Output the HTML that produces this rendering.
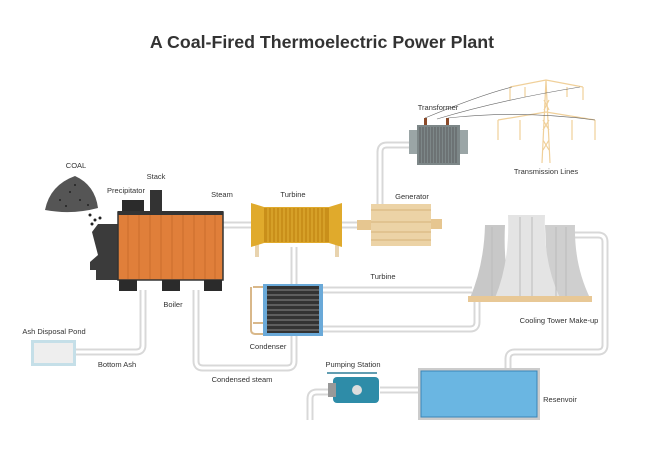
<!DOCTYPE html>
<html><head><meta charset="utf-8"><style>
html,body{margin:0;padding:0;background:#fff;}
svg{display:block;}
text{font-family:"Liberation Sans",sans-serif;fill:#333;}
.l{font-size:7.5px;}
</style></head><body>
<svg width="650" height="459" viewBox="0 0 650 459" xmlns="http://www.w3.org/2000/svg">
<text x="322" y="48" text-anchor="middle" font-size="17.8" font-weight="bold" fill="#222">A Coal-Fired Thermoelectric Power Plant</text>

<!-- pipes -->
<g fill="none" stroke-linejoin="round" stroke-linecap="butt">
<g stroke="#d8d8d8" stroke-width="7">
<path d="M223 225 H357"/>
<path d="M380 204 V152 Q380 145 387 145 H409"/>
<path d="M196 290 V361 Q196 368 203 368 H287 Q294 368 294 361 V247"/>
<path d="M143 290 V345 Q143 352 136 352 H76"/>
<path d="M323 290 H472"/>
<path d="M323 329 H470 Q477 329 477 322 V300"/>
<path d="M575 235 H598 Q605 235 605 242 V345 Q605 352 598 352 H515 Q508 352 508 359 V368"/>
<path d="M380 390 H418"/>
<path d="M330 392 H317 Q310 392 310 399 V420"/>
</g>
<g stroke="#fff" stroke-width="3">
<path d="M223 225 H357"/>
<path d="M380 204 V152 Q380 145 387 145 H409"/>
<path d="M196 290 V361 Q196 368 203 368 H287 Q294 368 294 361 V247"/>
<path d="M143 290 V345 Q143 352 136 352 H76"/>
<path d="M323 290 H472"/>
<path d="M323 329 H470 Q477 329 477 322 V300"/>
<path d="M575 235 H598 Q605 235 605 242 V345 Q605 352 598 352 H515 Q508 352 508 359 V368"/>
<path d="M380 390 H418"/>
<path d="M330 392 H317 Q310 392 310 399 V420"/>
</g>
</g>

<!-- coal -->
<path d="M45 210 Q50 185 75 176 Q95 185 98 208 Q72 215 45 210Z" fill="#555"/>
<g fill="#222"><circle cx="60" cy="200" r="1"/><circle cx="70" cy="192" r="1"/><circle cx="80" cy="200" r="1"/><circle cx="88" cy="205" r="1"/><circle cx="66" cy="206" r="1"/><circle cx="75" cy="185" r="1"/><circle cx="90" cy="215" r="1.5"/><circle cx="95" cy="220" r="1.5"/><circle cx="100" cy="218" r="1.5"/><circle cx="92" cy="224" r="1.5"/></g>
<!-- hopper -->
<path d="M98 224 H118 V280 H96 V270 H90 V262 L98 255 L92 232Z" fill="#3b3b3b"/>
<!-- boiler -->
<rect x="122" y="200" width="22" height="13" fill="#2b2b2b"/>
<rect x="150" y="190" width="12" height="23" fill="#333"/>
<rect x="118" y="212" width="105" height="68" fill="#e07f3a" stroke="#333" stroke-width="1.5"/>
<rect x="118" y="211" width="105" height="4" fill="#333"/>
<g stroke="#c56a2a" stroke-width="0.8"><path d="M128 215V279M139 215V279M150 215V279M161 215V279M172 215V279M183 215V279M194 215V279M205 215V279M215 215V279"/></g>
<rect x="119" y="280" width="18" height="11" fill="#2b2b2b"/>
<rect x="162" y="280" width="18" height="11" fill="#2b2b2b"/>
<rect x="204" y="280" width="18" height="11" fill="#2b2b2b"/>

<!-- turbine -->
<rect x="255" y="219" width="4" height="38" fill="#e8d3ae"/>
<rect x="335" y="219" width="4" height="38" fill="#e8d3ae"/>
<path d="M251 203 L264 207 H329 L342 203 V247 L329 243 H264 L251 247Z" fill="#e0aa2c"/>
<rect x="264" y="208" width="65" height="34" fill="#c98f1a"/>
<g stroke="#e9b83c" stroke-width="0.8"><path d="M268 208V242M272 208V242M276 208V242M280 208V242M284 208V242M288 208V242M292 208V242M296 208V242M300 208V242M304 208V242M308 208V242M312 208V242M316 208V242M320 208V242M324 208V242"/></g>

<!-- generator -->
<rect x="357" y="220" width="16" height="10" fill="#e6c690"/>
<rect x="428" y="219" width="14" height="10" fill="#e6c690"/>
<rect x="371" y="204" width="60" height="42" fill="#ecd3a6"/>
<g stroke="#d6b37a" stroke-width="1"><path d="M371 210H431M371 222H431M371 232H431M371 240H431"/></g>

<!-- transformer -->
<rect x="409" y="130" width="59" height="24" fill="#9aa5a6"/>
<rect x="417" y="125" width="43" height="40" fill="#7d8788"/>
<g stroke="#555" stroke-width="0.8"><path d="M420 127V163M423 127V163M426 127V163M429 127V163M432 127V163M435 127V163M438 127V163M441 127V163M444 127V163M447 127V163M450 127V163M453 127V163M456 127V163"/></g>
<rect x="424" y="118" width="3" height="7" fill="#8a4a2a"/><rect x="446" y="118" width="3" height="7" fill="#8a4a2a"/>

<!-- pylon -->
<g stroke="#f0d09a" stroke-width="1.2" fill="none">
<path d="M542 163 L546 80 L550 163 M543 150L549 140M549 150L543 140M543 130L549 120M549 130L543 120M544 110L549 100M549 110L544 100"/>
<path d="M510 87 L546 80 L583 87 M510 87V100 M583 87V100 M525 87V97 M567 87V97"/>
<path d="M498 120 L546 112 L595 120 M498 120V140 M595 120V140 M520 120V140 M572 120V140"/>
</g>
<g stroke="#666" stroke-width="0.6" fill="none">
<path d="M425 118 Q480 95 512 87"/><path d="M437 119 Q500 100 580 87"/><path d="M448 118 Q520 110 595 120"/>
</g>

<!-- cooling towers -->
<path d="M485 225 H505 Q503 265 512 298 H470 Q484 265 485 225Z" fill="#c8c8c8"/>
<path d="M545 225 H575 Q574 265 590 298 H548 Q547 265 545 225Z" fill="#cfcfcf"/>
<path d="M508 215 H545 Q543 262 560 298 H495 Q510 262 508 215Z" fill="#e4e4e4"/>
<g stroke="#bbb" stroke-width="1"><path d="M520 217V296M532 217V296M492 227V296M556 227V296M566 227V296"/></g>
<rect x="468" y="296" width="124" height="6" fill="#e8c896"/>

<!-- condenser -->
<path d="M253 287 H263 M253 323 H263 M251 287 V330 Q251 334 256 334 H263" stroke="#d9b88a" stroke-width="2" fill="none"/>
<rect x="263" y="284" width="60" height="52" fill="#6aa9d8"/>
<rect x="267" y="286" width="52" height="47" fill="#333"/>
<g stroke="#888" stroke-width="1"><path d="M267 290H319M267 295H319M267 300H319M267 305H319M267 310H319M267 315H319M267 320H319M267 325H319M267 330H319"/></g>

<!-- pumping station -->
<path d="M327 373 H377" stroke="#2e7f99" stroke-width="1.5"/>
<rect x="333" y="377" width="46" height="26" rx="4" fill="#2e8ca8"/>
<rect x="328" y="383" width="8" height="14" fill="#999"/>
<circle cx="357" cy="390" r="5" fill="#ddd"/>

<!-- reservoir -->
<rect x="418" y="368" width="122" height="52" fill="#ccc"/>
<rect x="421" y="371" width="116" height="46" fill="#6ab6e2" stroke="#3a86b8" stroke-width="1"/>

<!-- ash pond -->
<rect x="31" y="340" width="45" height="26" fill="#c5dfe8"/>
<rect x="34" y="343" width="39" height="20" fill="#eee"/>

<!-- labels -->
<g class="l" text-anchor="middle">
<text x="76" y="168">COAL</text>
<text x="156" y="179">Stack</text>
<text x="126" y="193">Precipitator</text>
<text x="222" y="197">Steam</text>
<text x="293" y="197">Turbine</text>
<text x="412" y="199">Generator</text>
<text x="438" y="110">Transformer</text>
<text x="546" y="174">Transmission Lines</text>
<text x="383" y="279">Turbine</text>
<text x="559" y="323">Cooling Tower Make-up</text>
<text x="173" y="307">Boiler</text>
<text x="268" y="349">Condenser</text>
<text x="54" y="334">Ash Disposal Pond</text>
<text x="117" y="367">Bottom Ash</text>
<text x="242" y="382">Condensed steam</text>
<text x="353" y="367">Pumping Station</text>
<text x="560" y="402">Resenvoir</text>
</g>
</svg>
</body></html>
